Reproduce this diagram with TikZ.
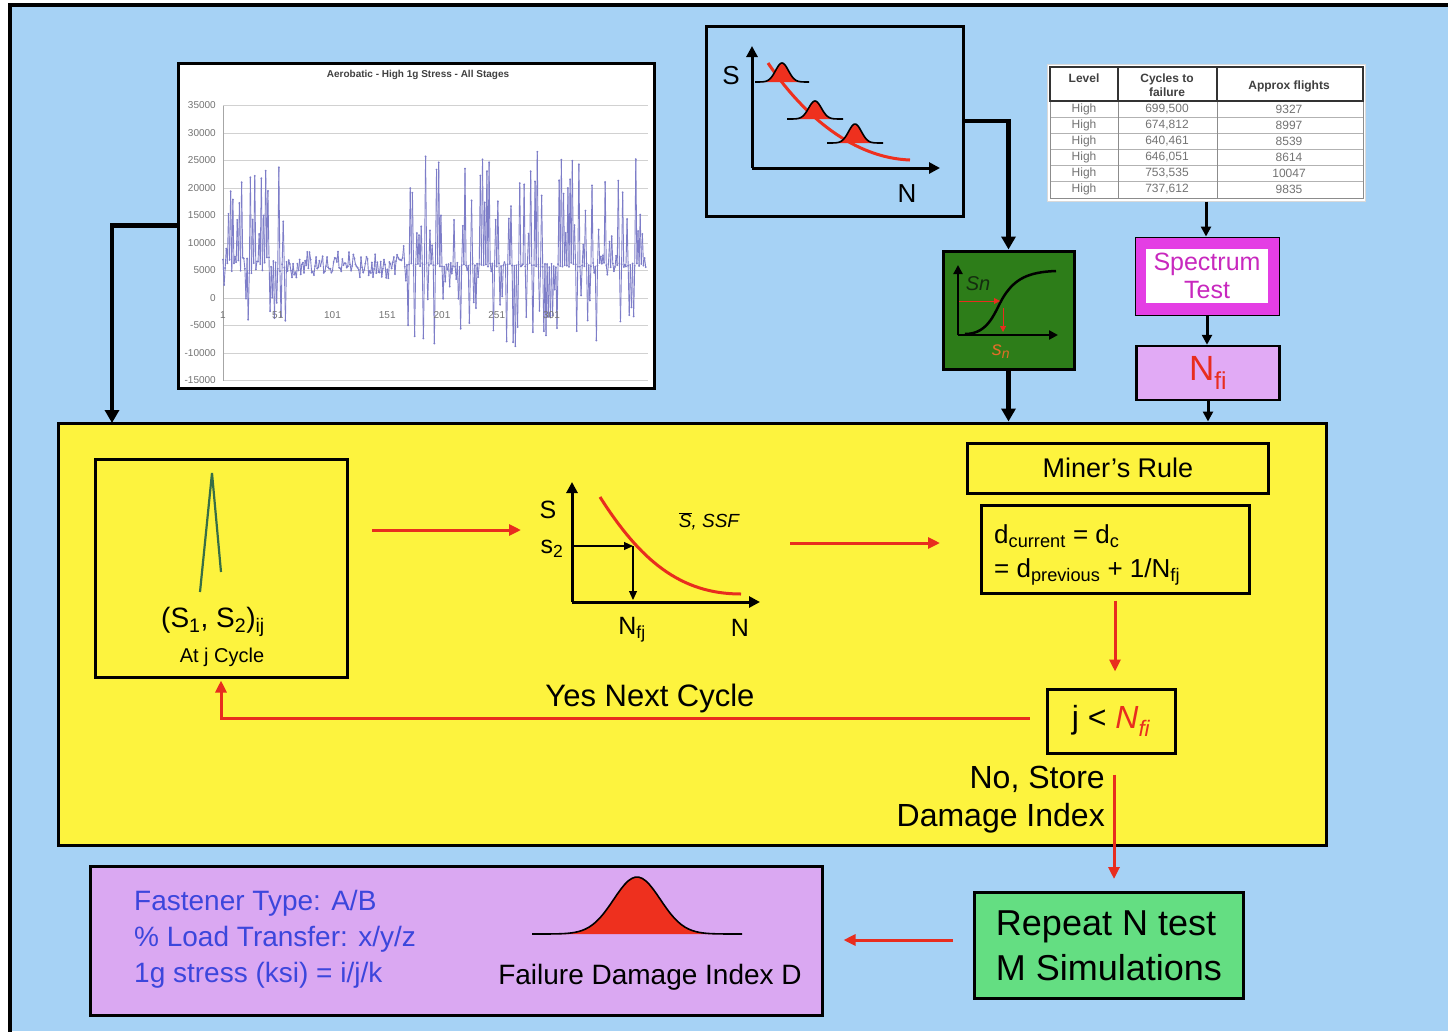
\documentclass[tikz,border=0pt]{standalone}
\usepackage{fontspec}
\setmainfont{Liberation Sans}
\usetikzlibrary{arrows.meta,calc}
\definecolor{bgblue}{RGB}{166,210,245}
\definecolor{yellowc}{RGB}{253,243,62}
\definecolor{darkgreen}{RGB}{45,125,25}
\definecolor{lightgreen}{RGB}{100,222,130}
\definecolor{purplec}{RGB}{218,168,242}
\definecolor{nfipurple}{RGB}{225,170,245}
\definecolor{magentac}{RGB}{228,62,228}
\definecolor{magtext}{RGB}{200,40,190}
\definecolor{arrred}{RGB}{232,45,30}
\definecolor{bellred}{RGB}{238,48,30}
\definecolor{bluetext}{RGB}{60,70,220}
\definecolor{plotc}{RGB}{125,125,200}
\definecolor{spikec}{RGB}{55,110,70}
\definecolor{orangec}{RGB}{225,110,40}
\definecolor{sncol}{RGB}{20,45,15}
\newcommand\fsz[2]{\fontsize{#1}{#2}\selectfont}
\newcommand\bellshape[5]{%
  \fill[bellred] plot[domain=-#3:#3, samples=60] ({#1+\x},{#2-#4*exp(-(\x*\x)/(#5*#5))}) -- cycle;
  \draw[line width=1.6pt, line join=round] plot[domain=-#3:#3, samples=60] ({#1+\x},{#2-#4*exp(-(\x*\x)/(#5*#5))});
}
\begin{document}
\begin{tikzpicture}[x=1pt,y=-1pt,
  box/.style={draw=black, line width=3pt, inner sep=0pt, anchor=center},
  blkarrow/.style={line width=4.5pt, -{Triangle[length=13pt,width=14pt]}},
  thinblk/.style={line width=3pt, -{Triangle[length=10pt,width=10pt]}},
  redarrow/.style={draw=arrred, line width=3pt, -{Triangle[length=12pt,width=11pt]}},
  axis/.style={line width=3pt, -{Triangle[length=11pt,width=11pt]}},
  tick/.style={font=\fsz{10}{12}, text=black!55, inner sep=0pt},
  tabh/.style={font=\bfseries\fsz{12}{13}, text=black!75, inner sep=0pt, align=center},
  tabr/.style={font=\fsz{12}{13}, text=black!55, inner sep=0pt},
]
\useasboundingbox (0,0) rectangle (1448,1031);
\fill[white] (0,0) rectangle (1448,1031);
\fill[bgblue] (10,5) rectangle (1448,1031);
\draw[line width=4pt] (10,1040) -- (10,5) -- (1455,5);

% ---------- chart ----------
\node[box, fill=white, minimum width=476, minimum height=325] (chart) at (416,225.5) {};
\node[font=\bfseries\fsz{10}{12}, text=black!75] (ctitle) at (418,75) {Aerobatic - High 1g Stress - All Stages};
\foreach \k in {35,30,...,-15} \draw[black!18, line width=0.8pt] (223,{298-5.5*\k}) -- (648,{298-5.5*\k});
\draw[black!35, line width=0.8pt] (223,105.5) -- (223,380.5);
\foreach \lab/\k in {35000/35,30000/30,25000/25,20000/20,15000/15,10000/10,5000/5,0/0,-5000/-5,-10000/-10,-15000/-15}
  \node[tick, anchor=east] (yt\k) at (216,{298-5.5*\k}) {\lab};
\pgfmathsetseed{11}
\foreach \i in {1,...,387}{
  \pgfmathsetmacro\vx{223+(\i-1)*1.095}
  \pgfmathsetmacro\vk{ifthenelse(mod(\i,2)==1, (\i<166)*(6+1.5*rand)+(\i>=166)*(6+0.4*rand), (\i<60)*(10+15*rand)+and(\i>=60,\i<166)*(6+2.5*rand)+(\i>=166)*(9+18*rand))}
  \pgfmathsetmacro\vy{298-5.5*\vk}
  \ifnum\i>1 \draw[plotc, line width=0.9pt] (\prvx,\prvy) -- (\vx,\vy);\fi
  \fill[plotc] (\vx,\vy) circle (1pt);
  \xdef\prvx{\vx}\xdef\prvy{\vy}
}
\foreach \lab in {1,51,101,151,201,251,301}
  \node[tick] (xt\lab) at ({223+(\lab-1)*1.095},315) {\lab};

% ---------- S-N box top ----------
\node[box, fill=bgblue, minimum width=257, minimum height=190] (snbox) at (834.5,121) {};
\draw[axis] (752,168) -- (752,46);
\draw[axis] (752,168) -- (940,168);
\node[font=\fsz{26}{30}] (slab) at (731,76) {S};
\node[font=\fsz{26}{30}] (nlab) at (907,194) {N};
\draw[bellred, line width=3pt] (768,63) .. controls (805,118) and (855,158) .. (910,160);
\bellshape{782}{82}{27}{19}{9}
\bellshape{815}{119}{28}{18}{9}
\bellshape{855}{143}{28}{19}{9}

% ---------- table ----------
\node[fill=white, draw=black!15, line width=1pt, minimum width=318, minimum height=137] (table) at (1206,132.5) {};
\foreach \yy in {117,133,149,165,181} \draw[black!30, line width=0.7pt] (1050,\yy) -- (1363,\yy);
\draw[black!45, line width=0.8pt] (1050,101) rectangle (1363,198);
\draw[black!45, line width=0.8pt] (1118,101) -- (1118,198) (1217,101) -- (1217,198);
\draw[black!80, line width=1.6pt] (1050,67) rectangle (1363,101) (1118,67) -- (1118,101) (1217,67) -- (1217,101);
\node[tabh] (th1) at (1084,78) {Level};
\node[tabh, font=\bfseries\fsz{12}{14}] (th2) at (1167,85) {Cycles to\\failure};
\node[tabh] (th3) at (1289,86) {Approx flights};
\foreach \r/\c/\f in {1/{699,500}/9327, 2/{674,812}/8997, 3/{640,461}/8539, 4/{646,051}/8614, 5/{753,535}/10047, 6/{737,612}/9835}{
  \node[tabr] (tl\r) at (1084,{93+16*\r}) {High};
  \node[tabr] (tc\r) at (1167,{93+16*\r}) {\c};
  \node[tabr] (tf\r) at (1289,{93+16*\r}) {\f};
}

% ---------- spectrum test ----------
\node[draw=black, line width=1pt, fill=magentac, minimum width=144, minimum height=78, inner sep=0pt] (spec) at (1207,276) {};
\node[fill=white, minimum width=122, minimum height=54, inner sep=0pt, text=magtext, align=center, font=\fsz{25}{28}] (spectext) at (1207,276) {Spectrum\\Test};
\node[box, line width=2.5pt, fill=nfipurple, minimum width=143, minimum height=54, text=arrred, font=\fsz{35}{40}] (nfi) at (1208,373) {N\textsubscript{fi}};

% ---------- green Sn box ----------
\node[box, fill=darkgreen, minimum width=131, minimum height=118] (green) at (1008.5,310) {};
\draw[line width=2.5pt, -{Triangle[length=9pt,width=9pt]}] (958,335) -- (958,265);
\draw[line width=2.5pt, -{Triangle[length=9pt,width=9pt]}] (958,335) -- (1058,335);
\draw[line width=2.5pt] (965,334) .. controls (990,334) and (995,310) .. (1004,296) .. controls (1015,279) and (1028,272) .. (1056,271);
\node[font=\itshape\fsz{20}{24}, text=sncol] (sn) at (978,284) {Sn};
\draw[arrred, line width=1pt, -{Triangle[length=6pt,width=6pt]}] (959,301) -- (1000,301);
\draw[arrred, line width=1pt, -{Triangle[length=6pt,width=6pt]}] (1003,308) -- (1003,332);
\node[font=\itshape\fsz{20}{24}, text=orangec] (snsub) at (1001,352) {s\textsubscript{n}};

% ---------- yellow main ----------
\node[box, fill=yellowc, minimum width=1268, minimum height=422] (yellow) at (692,634) {};
\node[box, fill=yellowc, minimum width=252, minimum height=218] (leftbox) at (221,568) {};
\draw[spikec, line width=2.2pt, line join=miter] (200,592) -- (212,473) -- (221,572);
\node[font=\fsz{28}{32}] (s12) at (213,622) {(S\textsubscript{1}, S\textsubscript{2})\textsubscript{ij}};
\node[font=\fsz{20}{24}] (atj) at (222,657) {At j Cycle};

\coordinate (ra1) at (372,530);
\coordinate (ra2) at (521,530);
\draw[redarrow] (ra1) -- (ra2);

% middle S-N
\draw[axis] (572,602) -- (572,482);
\draw[axis] (572,602) -- (760,602);
\draw[arrred, line width=3pt] (600,497) .. controls (640,560) and (680,594) .. (741,594);
\draw[line width=1.2pt, -{Triangle[length=9pt,width=8pt]}] (572,546) -- (633,546);
\draw[line width=1.2pt, -{Triangle[length=9pt,width=8pt]}] (633,546) -- (633,600);
\node[font=\fsz{25}{30}] (ms) at (548,510) {S};
\node[font=\fsz{25}{30}] (ms2) at (552,549) {s\textsubscript{2}};
\node[font=\fsz{25}{30}] (mnfj) at (632,630) {N\textsubscript{fj}};
\node[font=\fsz{25}{30}] (mn) at (740,628) {N};
\node[font=\itshape\fsz{19}{22}] (ssf) at (709,521) {$\overline{\mbox{S}}$, SSF};

\coordinate (rb1) at (790,543);
\coordinate (rb2) at (940,543);
\draw[redarrow] (rb1) -- (rb2);

\node[box, minimum width=301, minimum height=50, font=\fsz{27}{32}] (miner) at (1118,468) {Miner’s Rule};
\node[box, minimum width=268, minimum height=88] (formula) at (1115,549) {};
\node[anchor=west, inner sep=0pt, font=\fsz{26}{30}] (f1) at (994,536) {d\textsubscript{current} = d\textsubscript{c}};
\node[anchor=west, inner sep=0pt, font=\fsz{26}{30}] (f2) at (994,572) {= d\textsubscript{previous} + 1/N\textsubscript{fj}};

\node[box, minimum width=128, minimum height=64, font=\fsz{32}{36}] (jbox) at (1111,721) {j < \textcolor{arrred}{\itshape N\textsubscript{fi}}};
\draw[redarrow, shorten <=6pt, shorten >=16pt] (formula.south) -- (formula.south |- jbox.north);
\draw[redarrow, shorten <=16pt, shorten >=2pt] ([yshift=3pt]jbox.west) -| (leftbox.south);
\node[font=\fsz{31}{36}] (yes) at (650,698) {Yes Next Cycle};
\node[anchor=east, align=right, inner sep=0pt, font=\fsz{32}{38}] (nostore) at (1105,800) {No, Store\\Damage Index};

% ---------- bottom ----------
\node[box, fill=lightgreen, minimum width=269, minimum height=106, align=left, font=\fsz{36}{45}] (repeat) at (1109,945.5) {Repeat N test\\M Simulations};
\node[box, fill=purplec, minimum width=732, minimum height=149] (purple) at (456,940.5) {};
\node[anchor=west, align=left, inner sep=0pt, text=bluetext, font=\fsz{28}{36}] (fastener) at (134,939) {Fastener Type: A/B\\\% Load Transfer: x/y/z\\1g stress (ksi) = i/j/k};
\bellshape{637}{934}{105}{57}{33}
\node[font=\fsz{28}{32}] (fdi) at (650,977) {Failure Damage Index D};

\draw[redarrow, shorten <=20pt, shorten >=12pt] ([xshift=3pt]jbox.south) -- ([xshift=3pt]jbox.south |- repeat.north);
\draw[redarrow, shorten <=20pt, shorten >=20pt] ([yshift=5.5pt]repeat.west) -- ([yshift=5.5pt]repeat.west -| purple.east);

% ---------- black connectors ----------
\coordinate (c1) at (112,423);
\draw[blkarrow] (chart.west) -| (c1);
\draw[blkarrow] (snbox.east) -| (green.north);
\draw[blkarrow] (green.south) -- (green.south |- yellow.north);
\draw[thinblk] (table.south) -- (table.south |- spec.north);
\draw[thinblk] (spec.south) -- (spec.south |- nfi.north);
\draw[thinblk] (nfi.south) -- (nfi.south |- yellow.north);
\end{tikzpicture}
\end{document}
